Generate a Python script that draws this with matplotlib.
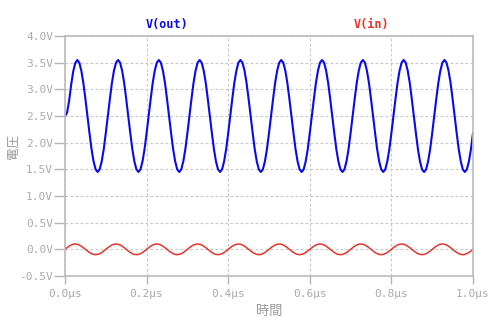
import numpy as np
import matplotlib
matplotlib.use("Agg")
from matplotlib import pyplot as plt

#%% data (time in us, voltage in V)
t_step = 0.005
v_out = [2.50, 2.56, 2.78, 3.08, 3.33, 3.49, 3.55, 3.50, 3.35, 3.12, 2.82, 2.50, 2.18, 1.88, 1.65, 1.50, 1.45, 1.50, 1.65, 1.88, 2.18,
         2.50, 2.82, 3.12, 3.35, 3.50, 3.55, 3.50, 3.35, 3.12, 2.82, 2.50, 2.18, 1.88, 1.65, 1.50, 1.45, 1.50, 1.65, 1.88, 2.18,
         2.50, 2.82, 3.12, 3.35, 3.50, 3.55, 3.50, 3.35, 3.12, 2.82, 2.50, 2.18, 1.88, 1.65, 1.50, 1.45, 1.50, 1.65, 1.88, 2.18,
         2.50, 2.82, 3.12, 3.35, 3.50, 3.55, 3.50, 3.35, 3.12, 2.82, 2.50, 2.18, 1.88, 1.65, 1.50, 1.45, 1.50, 1.65, 1.88, 2.18,
         2.50, 2.82, 3.12, 3.35, 3.50, 3.55, 3.50, 3.35, 3.12, 2.82, 2.50, 2.18, 1.88, 1.65, 1.50, 1.45, 1.50, 1.65, 1.88, 2.18,
         2.50, 2.82, 3.12, 3.35, 3.50, 3.55, 3.50, 3.35, 3.12, 2.82, 2.50, 2.18, 1.88, 1.65, 1.50, 1.45, 1.50, 1.65, 1.88, 2.18,
         2.50, 2.82, 3.12, 3.35, 3.50, 3.55, 3.50, 3.35, 3.12, 2.82, 2.50, 2.18, 1.88, 1.65, 1.50, 1.45, 1.50, 1.65, 1.88, 2.18,
         2.50, 2.82, 3.12, 3.35, 3.50, 3.55, 3.50, 3.35, 3.12, 2.82, 2.50, 2.18, 1.88, 1.65, 1.50, 1.45, 1.50, 1.65, 1.88, 2.18,
         2.50, 2.82, 3.12, 3.35, 3.50, 3.55, 3.50, 3.35, 3.12, 2.82, 2.50, 2.18, 1.88, 1.65, 1.50, 1.45, 1.50, 1.65, 1.88, 2.18,
         2.50, 2.82, 3.12, 3.35, 3.50, 3.55, 3.50, 3.35, 3.12, 2.82, 2.50, 2.18, 1.88, 1.65, 1.50, 1.45, 1.50, 1.65, 1.88, 2.18]
v_in = [0.000, 0.031, 0.059, 0.081, 0.095, 0.100, 0.095, 0.081, 0.059, 0.031, 0.000, -0.031, -0.059, -0.081, -0.095, -0.100, -0.095, -0.081, -0.059, -0.031,
        0.000, 0.031, 0.059, 0.081, 0.095, 0.100, 0.095, 0.081, 0.059, 0.031, 0.000, -0.031, -0.059, -0.081, -0.095, -0.100, -0.095, -0.081, -0.059, -0.031,
        0.000, 0.031, 0.059, 0.081, 0.095, 0.100, 0.095, 0.081, 0.059, 0.031, 0.000, -0.031, -0.059, -0.081, -0.095, -0.100, -0.095, -0.081, -0.059, -0.031,
        0.000, 0.031, 0.059, 0.081, 0.095, 0.100, 0.095, 0.081, 0.059, 0.031, 0.000, -0.031, -0.059, -0.081, -0.095, -0.100, -0.095, -0.081, -0.059, -0.031,
        0.000, 0.031, 0.059, 0.081, 0.095, 0.100, 0.095, 0.081, 0.059, 0.031, 0.000, -0.031, -0.059, -0.081, -0.095, -0.100, -0.095, -0.081, -0.059, -0.031,
        0.000, 0.031, 0.059, 0.081, 0.095, 0.100, 0.095, 0.081, 0.059, 0.031, 0.000, -0.031, -0.059, -0.081, -0.095, -0.100, -0.095, -0.081, -0.059, -0.031,
        0.000, 0.031, 0.059, 0.081, 0.095, 0.100, 0.095, 0.081, 0.059, 0.031, 0.000, -0.031, -0.059, -0.081, -0.095, -0.100, -0.095, -0.081, -0.059, -0.031,
        0.000, 0.031, 0.059, 0.081, 0.095, 0.100, 0.095, 0.081, 0.059, 0.031, 0.000, -0.031, -0.059, -0.081, -0.095, -0.100, -0.095, -0.081, -0.059, -0.031,
        0.000, 0.031, 0.059, 0.081, 0.095, 0.100, 0.095, 0.081, 0.059, 0.031, 0.000, -0.031, -0.059, -0.081, -0.095, -0.100, -0.095, -0.081, -0.059, -0.031,
        0.000, 0.031, 0.059, 0.081, 0.095, 0.100, 0.095, 0.081, 0.059, 0.031, 0.000, -0.031, -0.059, -0.081, -0.095, -0.100, -0.095, -0.081, -0.059, -0.031,
        0.000]
x_ticks = [0.0, 0.2, 0.4, 0.6, 0.8, 1.0]
x_labels = ["0.0µs", "0.2µs", "0.4µs", "0.6µs", "0.8µs", "1.0µs"]
y_ticks = [-0.5, 0.0, 0.5, 1.0, 1.5, 2.0, 2.5, 3.0, 3.5, 4.0]
y_labels = ["-0.5V", "0.0V", "0.5V", "1.0V", "1.5V", "2.0V", "2.5V", "3.0V", "3.5V", "4.0V"]

t = np.arange(len(v_in)) * t_step

#%% plot
grey = "#aaaaaa"
mono = "DejaVu Sans Mono"
cjk = ["Noto Sans CJK JP", "DejaVu Sans"]

fig = plt.figure(figsize=(5.02, 3.22), dpi=100)
ax = fig.add_axes([65/502, 1 - 276/322, 408/502, 240/322])

ax.plot(t, v_out, color="#0a0aee", lw=1.5, solid_joinstyle="round")
ax.plot(t, v_in, color="#e8352a", lw=1.1, solid_joinstyle="round")

ax.set_xlim(0, 1.0)
ax.set_ylim(-0.5, 4.0)
ax.set_xticks(x_ticks)
ax.set_xticklabels(x_labels, family=mono, fontsize=8, color=grey)
ax.set_yticks(y_ticks)
ax.set_yticklabels(y_labels, family=mono, fontsize=8, color=grey)
ax.tick_params(axis="y", length=8, width=1, color="#b5b5b5", pad=0.5)
ax.tick_params(axis="x", length=5.5, width=1, color="#b5b5b5", pad=4)

ax.grid(True, color="#c8c8c8", linestyle=(0, (2.5, 2)), linewidth=0.8)
for s in ax.spines.values():
    s.set_color("#bbbbbb")
    s.set_linewidth(1.2)

ax.set_ylabel("電圧", family=cjk, fontsize=9, color="#999999", va="center")
ax.yaxis.set_label_coords(-0.128, 0.54)
ax.set_xlabel("時間", family=cjk, fontsize=9.5, color="#999999", labelpad=4)

ax.text(0.25, 1.02, "V(out)", transform=ax.transAxes, ha="center", va="bottom",
        family=mono, fontsize=8.5, fontweight="bold", color="#0a0aee")
ax.text(0.75, 1.02, "V(in)", transform=ax.transAxes, ha="center", va="bottom",
        family=mono, fontsize=8.5, fontweight="bold", color="#e8352a")

fig.savefig("out.png", dpi=100)
